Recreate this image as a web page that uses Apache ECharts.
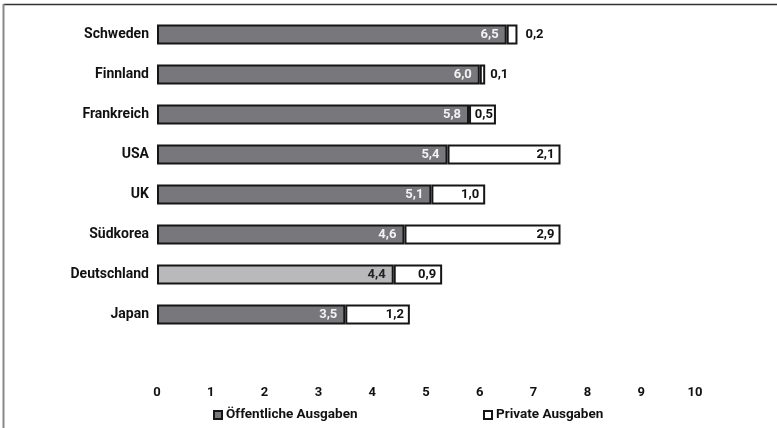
<!DOCTYPE html>
<html>
<head>
<meta charset="utf-8">
<script src="https://cdn.jsdelivr.net/npm/echarts@6/dist/echarts.min.js"></script>
<style>
  html, body { margin: 0; padding: 0; background: #fff; }
  #chart { width: 777px; height: 428px; }
</style>
</head>
<body>
<div id="chart"></div>
<script>
// Bildungsausgaben in % des BIP, nach Herkunft der Mittel
const countries = ['Schweden', 'Finnland', 'Frankreich', 'USA', 'UK', 'Südkorea', 'Deutschland', 'Japan'];
const publicSpend = [6.5, 6.0, 5.8, 5.4, 5.1, 4.6, 4.4, 3.5];
const privateSpend = [0.2, 0.1, 0.5, 2.1, 1.0, 2.9, 0.9, 1.2];
const highlight = 'Deutschland';

const FONT = 'Roboto, "DejaVu Sans Condensed", sans-serif';
const DARK = '#78777c';
const LIGHT = '#b9b9bb';
const EDGE = '#151515';

const fmt = v => v.toFixed(1).replace('.', ',');

// categories are listed top to bottom; the category axis draws bottom to top
const cats = countries.slice().reverse();
const pub = publicSpend.slice().reverse();
const priv = privateSpend.slice().reverse();

const publicData = cats.map((c, i) => {
  const hl = c === highlight;
  return {
    value: pub[i],
    itemStyle: { color: hl ? LIGHT : DARK },
    label: { color: hl ? '#222' : '#f2f2f2' }
  };
});

const privateData = cats.map((c, i) => {
  const small = priv[i] < 0.4;
  return {
    value: priv[i],
    label: small
      ? { position: 'right', distance: priv[i] < 0.15 ? 5 : 8 }
      : { position: 'insideRight', distance: priv[i] < 0.8 ? 3 : 6 }
  };
});

const legendText = { fontFamily: FONT, fontWeight: 'bold', fontSize: 13.5, color: '#111', padding: [0, 0, 0, -1] };

const chart = echarts.init(document.getElementById('chart'), null, { renderer: 'canvas' });

chart.setOption({
  animation: false,
  backgroundColor: '#fff',
  textStyle: { fontFamily: FONT },
  grid: { left: 157, right: 82, top: 14.5, bottom: 93.5 },
  xAxis: {
    type: 'value',
    min: 0,
    max: 10,
    interval: 1,
    axisLine: { show: false },
    axisTick: { show: false },
    splitLine: { show: false },
    axisLabel: {
      margin: 52,
      color: '#111',
      fontFamily: FONT,
      fontWeight: 'bold',
      fontSize: 13
    }
  },
  yAxis: {
    type: 'category',
    data: cats,
    axisLine: { show: false },
    axisTick: { show: false },
    axisLabel: {
      margin: 8,
      color: '#111',
      fontFamily: FONT,
      fontWeight: 'bold',
      fontSize: 14
    }
  },
  legend: [
    {
      data: ['Öffentliche Ausgaben'],
      left: 208,
      top: 403,
      icon: 'rect',
      itemWidth: 8,
      itemHeight: 8,
      itemGap: 4,
      textStyle: legendText
    },
    {
      data: ['Private Ausgaben'],
      left: 478,
      top: 403,
      icon: 'rect',
      itemWidth: 8,
      itemHeight: 8,
      itemGap: 4,
      textStyle: legendText
    }
  ],
  series: [
    {
      name: 'Öffentliche Ausgaben',
      type: 'bar',
      stack: 'total',
      barWidth: 20,
      data: publicData,
      itemStyle: { color: DARK, borderColor: EDGE, borderWidth: 2 },
      label: {
        show: true,
        position: 'insideRight',
        distance: 8,
        fontFamily: FONT,
        fontWeight: 'bold',
        fontSize: 13,
        formatter: p => fmt(p.value)
      }
    },
    {
      name: 'Private Ausgaben',
      type: 'bar',
      stack: 'total',
      barWidth: 20,
      data: privateData,
      itemStyle: { color: '#ffffff', borderColor: EDGE, borderWidth: 2 },
      label: {
        show: true,
        color: '#111',
        fontFamily: FONT,
        fontWeight: 'bold',
        fontSize: 13,
        formatter: p => fmt(p.value)
      }
    }
  ],
  graphic: [
    {
      type: 'line',
      shape: { x1: 3.5, y1: 4.5, x2: 777, y2: 4.5 },
      style: { stroke: '#333', lineWidth: 1.5 }
    },
    {
      type: 'line',
      shape: { x1: 3.5, y1: 4, x2: 3.5, y2: 428 },
      style: { stroke: '#888', lineWidth: 2 }
    }
  ]
});
</script>
</body>
</html>
